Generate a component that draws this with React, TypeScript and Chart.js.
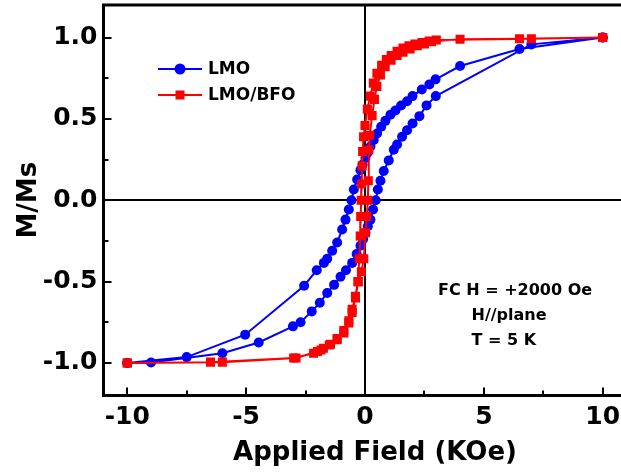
import React, { useEffect, useRef } from 'react';
import { Chart, registerables } from 'chart.js';

Chart.register(...registerables);

// ---- Data ----
// LMO, descending branch (+10 -> -10 KOe)
const lmoDownH = [10, 6.5, 4.0, 2.97, 2.71, 2.39, 2.0, 1.77, 1.52, 1.28, 1.07, 0.86, 0.68, 0.51, 0.37, 0.23, 0.1, 0.02, -0.1, -0.19, -0.33, -0.47, -0.57, -0.68, -0.82, -0.96, -1.17, -1.38, -1.59, -1.73, -2.03, -2.56, -5.04, -7.5, -10];
const lmoDownM = [1.0, 0.93, 0.825, 0.743, 0.712, 0.681, 0.64, 0.609, 0.582, 0.552, 0.525, 0.488, 0.452, 0.41, 0.37, 0.33, 0.29, 0.26, 0.22, 0.185, 0.127, 0.066, 0.0, -0.057, -0.119, -0.18, -0.26, -0.31, -0.36, -0.385, -0.43, -0.525, -0.826, -0.964, -1.0];
// LMO, ascending branch (-10 -> +10 KOe)
const lmoUpH = [-10, -9.0, -6.0, -4.47, -3.03, -2.71, -2.24, -1.9, -1.59, -1.3, -1.03, -0.8, -0.54, -0.35, -0.19, -0.08, 0.02, 0.12, 0.23, 0.34, 0.45, 0.54, 0.65, 0.79, 1.0, 1.21, 1.35, 1.56, 1.77, 2.0, 2.29, 2.59, 2.98, 7.0, 10];
const lmoUpM = [-1.0, -0.997, -0.94, -0.874, -0.775, -0.75, -0.683, -0.63, -0.57, -0.52, -0.47, -0.43, -0.385, -0.33, -0.28, -0.24, -0.2, -0.16, -0.12, -0.057, 0.0, 0.066, 0.12, 0.18, 0.245, 0.31, 0.343, 0.39, 0.43, 0.472, 0.517, 0.583, 0.64, 0.958, 1.0];
// LMO/BFO, descending branch
const bfoDownH = [10, 7.0, 3.0, 2.7, 2.4, 2.1, 1.85, 1.6, 1.35, 1.1, 0.9, 0.7, 0.5, 0.35, 0.22, 0.1, 0.0, -0.06, -0.1, -0.12, -0.14, -0.16, -0.18, -0.2, -0.24, -0.3, -0.4, -0.54, -0.68, -0.89, -1.17, -1.5, -1.85, -2.16, -3.0, -6.5, -10];
const bfoDownM = [1.0, 0.993, 0.985, 0.978, 0.97, 0.96, 0.95, 0.935, 0.915, 0.89, 0.865, 0.83, 0.78, 0.72, 0.64, 0.56, 0.46, 0.39, 0.3, 0.21, 0.1, 0.0, -0.1, -0.22, -0.36, -0.5, -0.59, -0.67, -0.74, -0.8, -0.85, -0.89, -0.92, -0.94, -0.97, -0.995, -1.0];
// LMO/BFO, ascending branch
const bfoUpH = [-10, -6.0, -2.9, -2.0, -1.75, -1.45, -1.17, -0.89, -0.68, -0.54, -0.4, -0.28, -0.15, -0.05, 0.02, 0.08, 0.12, 0.14, 0.16, 0.2, 0.3, 0.4, 0.5, 0.65, 0.85, 1.1, 1.35, 1.6, 1.9, 2.2, 2.5, 2.8, 4.0, 6.5, 10];
const bfoUpM = [-1.0, -0.995, -0.97, -0.93, -0.91, -0.885, -0.857, -0.816, -0.755, -0.69, -0.6, -0.5, -0.44, -0.36, -0.2, -0.1, 0.0, 0.12, 0.31, 0.4, 0.52, 0.62, 0.7, 0.77, 0.82, 0.86, 0.89, 0.91, 0.93, 0.95, 0.96, 0.975, 0.989, 0.993, 1.0];

const seriesNames = ['LMO', 'LMO/BFO'];
const xMajorTicks = [-10, -5, 0, 5, 10];
const xMinorTicks = [-7.5, -2.5, 2.5, 7.5];
const yMajorTicks = [-1, -0.5, 0, 0.5, 1];
const yMinorTicks = [-0.75, -0.25, 0.25, 0.75];
const xTitle = 'Applied Field (KOe)';
const yTitle = 'M/Ms';
const noteLines = ['FC H = +2000 Oe', 'H//plane', 'T = 5 K'];

const BLUE = '#0000FF';
const RED = '#FF0000';
const FONT = '"DejaVu Sans", sans-serif';

const toPoints = (hs: number[], ms: number[]) => hs.map((h, i) => ({ x: h, y: ms[i] }));

const zeroPadding = (s: any) => {
  s.paddingTop = 0;
  s.paddingBottom = 0;
  s.paddingLeft = 0;
  s.paddingRight = 0;
};

const framePlugin = {
  id: 'frame',
  afterDraw(chart: any) {
    const { ctx, chartArea: a, scales } = chart;
    const x = scales.x;
    const y = scales.y;
    ctx.save();
    ctx.strokeStyle = '#000';
    // top border
    ctx.lineWidth = 3;
    ctx.beginPath();
    ctx.moveTo(a.left - 1.5, a.top);
    ctx.lineTo(a.right, a.top);
    ctx.stroke();
    // inward tick marks
    ctx.lineWidth = 2;
    const xt = (vals: number[], len: number) => {
      vals.forEach((v) => {
        const p = Math.round(x.getPixelForValue(v));
        ctx.beginPath();
        ctx.moveTo(p, a.bottom);
        ctx.lineTo(p, a.bottom - len);
        ctx.stroke();
      });
    };
    const yt = (vals: number[], len: number) => {
      vals.forEach((v) => {
        const p = Math.round(y.getPixelForValue(v));
        ctx.beginPath();
        ctx.moveTo(a.left, p);
        ctx.lineTo(a.left + len, p);
        ctx.stroke();
      });
    };
    xt(xMajorTicks, 8);
    xt(xMinorTicks, 5);
    yt(yMajorTicks, 8);
    yt(yMinorTicks, 5);

    // x axis title
    ctx.fillStyle = '#000';
    ctx.font = `bold 26px ${FONT}`;
    ctx.textAlign = 'center';
    ctx.textBaseline = 'middle';
    ctx.fillText(xTitle, 375, 453);

    // legend
    chart.data.datasets.forEach((ds: any, i: number) => {
      const ly = 69 + i * 26;
      ctx.strokeStyle = ds.borderColor;
      ctx.fillStyle = ds.backgroundColor;
      ctx.lineWidth = 2;
      ctx.beginPath();
      ctx.moveTo(158, ly);
      ctx.lineTo(202, ly);
      ctx.stroke();
      if (ds.pointStyle === 'rect') {
        ctx.fillRect(180 - 4.5, ly - 4.5, 9, 9);
      } else {
        ctx.beginPath();
        ctx.arc(180, ly, 5.5, 0, Math.PI * 2);
        ctx.fill();
      }
      ctx.fillStyle = '#000';
      ctx.font = `bold 17px ${FONT}`;
      ctx.textAlign = 'left';
      ctx.textBaseline = 'middle';
      ctx.fillText(ds.label, 208, ly + 1);
    });

    // annotation
    ctx.fillStyle = '#000';
    ctx.font = `bold 16px ${FONT}`;
    ctx.textAlign = 'left';
    ctx.textBaseline = 'alphabetic';
    ctx.fillText(noteLines[0], 438, 295);
    ctx.fillText(noteLines[1], 471.5, 320);
    ctx.fillText(noteLines[2], 471.5, 345);
    ctx.restore();
  },
};

export default function App() {
  const ref = useRef<HTMLCanvasElement | null>(null);
  useEffect(() => {
    if (!ref.current) return;
    Chart.defaults.font.family = FONT;
    const chart = new Chart(ref.current, {
      type: 'scatter',
      data: {
        datasets: [
          {
            label: seriesNames[0],
            data: [...toPoints(lmoDownH, lmoDownM), ...toPoints(lmoUpH, lmoUpM)],
            showLine: true,
            borderColor: BLUE,
            backgroundColor: BLUE,
            borderWidth: 2,
            pointStyle: 'circle',
            pointRadius: 5,
            pointBorderWidth: 0,
            tension: 0,
            order: 1,
          },
          {
            label: seriesNames[1],
            data: [...toPoints(bfoDownH, bfoDownM), ...toPoints(bfoUpH, bfoUpM)],
            showLine: true,
            borderColor: RED,
            backgroundColor: RED,
            borderWidth: 2,
            pointStyle: 'rect',
            pointRadius: 6.4,
            pointBorderWidth: 0,
            tension: 0,
            order: 0,
          },
        ] as any,
      },
      options: {
        animation: false,
        responsive: false,
        events: [],
        layout: { padding: { top: 5, left: 0, right: 0, bottom: 0 }, autoPadding: false } as any,
        plugins: {
          legend: { display: false },
          tooltip: { enabled: false },
        },
        scales: {
          x: {
            type: 'linear',
            min: -11,
            max: 10.77,
            afterBuildTicks: (s: any) => {
              s.ticks = [...xMajorTicks, ...xMinorTicks].sort((p, q) => p - q).map((v) => ({ value: v }));
            },
            afterFit: (s: any) => {
              s.height = 76.5;
              zeroPadding(s);
            },
            ticks: {
              autoSkip: false,
              maxRotation: 0,
              padding: 7,
              color: '#000',
              font: { size: 25, weight: 'bold' },
              callback: (v: any) => (xMajorTicks.includes(Number(v)) ? String(v) : ''),
            },
            grid: {
              drawTicks: false,
              lineWidth: 2,
              color: (c: any) => (c.tick && c.tick.value === 0 ? '#000' : 'rgba(0,0,0,0)'),
            },
            border: { display: true, color: '#000', width: 3 },
          },
          y: {
            type: 'linear',
            min: -1.2,
            max: 1.2,
            afterBuildTicks: (s: any) => {
              s.ticks = [...yMajorTicks, ...yMinorTicks].sort((p, q) => p - q).map((v) => ({ value: v }));
            },
            afterFit: (s: any) => {
              s.width = 103.5;
              zeroPadding(s);
            },
            ticks: {
              autoSkip: false,
              padding: 6,
              color: '#000',
              font: { size: 25, weight: 'bold' },
              callback: (v: any) => (yMajorTicks.includes(Number(v)) ? Number(v).toFixed(1) : ''),
            },
            grid: {
              drawTicks: false,
              lineWidth: 2,
              color: (c: any) => (c.tick && c.tick.value === 0 ? '#000' : 'rgba(0,0,0,0)'),
            },
            border: { display: true, color: '#000', width: 3 },
            title: {
              display: true,
              text: yTitle,
              color: '#000',
              font: { size: 26, weight: 'bold' },
              padding: { top: 14, bottom: 0 },
            },
          },
        },
      } as any,
      plugins: [framePlugin],
    });
    return () => chart.destroy();
  }, []);

  return (
    <div style={{ position: 'absolute', left: 0, top: 0, width: 621, height: 472, background: '#fff' }}>
      <canvas ref={ref} width={621} height={472} style={{ display: 'block' }} />
    </div>
  );
}
